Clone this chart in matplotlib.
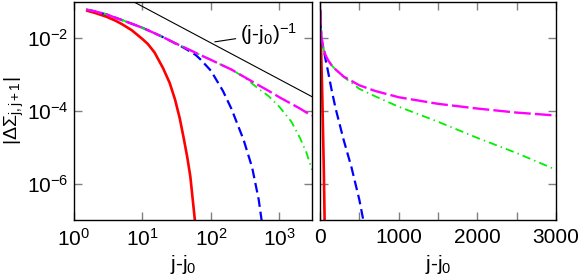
import numpy as np
import matplotlib
matplotlib.use("Agg")
import matplotlib.pyplot as plt
from matplotlib.ticker import FixedLocator, NullFormatter, LogFormatterSciNotation, NullLocator

plt.rcParams['font.family'] = ['Liberation Sans', 'DejaVu Sans']
plt.rcParams['mathtext.fontset'] = 'custom'
plt.rcParams['mathtext.rm'] = 'Liberation Sans'
plt.rcParams['mathtext.it'] = 'Liberation Sans:italic'
plt.rcParams['axes.unicode_minus'] = False
plt.rcParams['lines.scale_dashes'] = False

# data: |Delta Sigma_{j,j+1}| vs j - j0
x_red = [1.5, 2, 3, 4, 5, 7, 10, 12, 15, 20, 25, 30, 35, 40, 45, 50, 60]
y_red = [5.7e-2, 4.9e-2, 3.8e-2, 3.0e-2, 2.4e-2, 1.62e-2, 9.3e-3, 6.8e-3, 4.0e-3, 1.48e-3,
         5.8e-4, 2.0e-4, 6.3e-5, 1.8e-5, 5.5e-6, 1.6e-6, 6.0e-8]

x_blue = [1.5, 2, 3, 5, 7, 10, 15, 20, 30, 40, 50, 60, 70, 100, 150, 200, 300, 400, 500, 550, 600]
y_blue = [6.0e-2, 5.4e-2, 4.4e-2, 3.1e-2, 2.45e-2, 1.9e-2, 1.35e-2, 1.05e-2, 7.1e-3,
          5.4e-3, 4.2e-3, 3.4e-3, 2.6e-3, 1.26e-3, 3.5e-4, 1.12e-4, 1.6e-5,
          2.8e-6, 3.6e-7, 1.0e-7, 3.0e-8]

x_green = [1.5, 2, 3, 5, 7, 10, 15, 20, 30, 50, 70, 100, 150, 200, 300, 500, 700,
           1000, 1500, 2000, 2500, 3000]
y_green = [6.0e-2, 5.4e-2, 4.4e-2, 3.1e-2, 2.45e-2, 1.9e-2, 1.35e-2, 1.05e-2, 7.2e-3,
           4.6e-3, 3.4e-3, 2.5e-3, 1.74e-3, 1.35e-3, 8.5e-4, 4.0e-4, 2.5e-4,
           1.29e-4, 5.0e-5, 1.8e-5, 6.9e-6, 2.4e-6]

x_mag = [1.5, 2, 3, 5, 7, 10, 15, 20, 30, 50, 70, 100, 150, 200, 300, 500, 700,
         1000, 1500, 2000, 2500, 3000]
y_mag = [6.0e-2, 5.4e-2, 4.4e-2, 3.1e-2, 2.45e-2, 1.9e-2, 1.35e-2, 1.05e-2, 7.2e-3,
         4.6e-3, 3.4e-3, 2.5e-3, 1.74e-3, 1.35e-3, 8.7e-4, 5.0e-4, 3.5e-4,
         2.35e-4, 1.55e-4, 1.15e-4, 8.9e-5, 7.4e-5]

# guide line ~ (j-j0)^-1
ref_x = np.array([1.0, 3000.0])
ref_amp = 0.73

W, H = 581, 279
fig = plt.figure(figsize=(W / 100, H / 100), dpi=100)
ax1 = fig.add_axes([74 / W, 59 / H, 238 / W, 218.5 / H])
ax2 = fig.add_axes([320 / W, 59 / H, 236 / W, 218.5 / H])

fs = 15
tick_kw = dict(direction='in', colors='0.5', labelcolor='black', width=1.0,
               top=True, right=True, labelsize=fs)


def draw_curves(ax):
    ax.plot(x_red, y_red, color='#ff0000', lw=1.9, solid_capstyle='butt')
    ax.plot(x_blue, y_blue, color='#0000ff', lw=1.6, dashes=(7, 3.5))
    ax.plot(x_green, y_green, color='#00f000', lw=1.3, dashes=(6, 3, 1, 3))
    ax.plot(x_mag, y_mag, color='#ff00ff', lw=1.7, dashes=(12, 3))


for ax in (ax1, ax2):
    draw_curves(ax)
    ax.set_yscale('log')
    ax.set_ylim(1e-7, 1e-1)
    ax.yaxis.set_major_locator(FixedLocator([1e-6, 1e-4, 1e-2]))
    ax.yaxis.set_minor_locator(NullLocator())
    for s in ax.spines.values():
        s.set_linewidth(1.0)

# left panel: log-log
ax1.plot(ref_x, ref_amp / ref_x, color='black', lw=0.8)
ax1.set_xscale('log')
ax1.set_xlim(1, 3000)
ax1.xaxis.set_major_locator(FixedLocator([1, 10, 100, 1000]))
ax1.xaxis.set_major_formatter(LogFormatterSciNotation())
ax1.yaxis.set_major_formatter(LogFormatterSciNotation())
ax1.tick_params(which='major', length=6, pad=6, **tick_kw)
ax1.tick_params(axis='y', which='major', pad=4)
ax1.tick_params(which='minor', length=3, **tick_kw)
ax1.set_ylabel('|\u0394\u03a3$_{\\mathrm{j,j+1}}$|', fontsize=14)
ax1.yaxis.set_label_coords(-0.2, 0.5)
ax1.set_xlabel('j-j$_0$', fontsize=fs)
ax1.xaxis.set_label_coords(0.46, -0.15)
ax1.annotate('(j-j$_0$)$^{-1}$', xy=(114, 7.8e-3), xytext=(265, 1.3e-2),
             fontsize=fs, va='center', ha='left',
             arrowprops=dict(arrowstyle='-', color='black', lw=0.8,
                             shrinkA=1, shrinkB=0))

# right panel: linear x
ax2.set_xlim(0, 3000)
ax2.xaxis.set_major_locator(FixedLocator([0, 1000, 2000, 3000]))
ax2.xaxis.set_minor_locator(FixedLocator([500, 1500, 2500]))
ax2.yaxis.set_major_formatter(NullFormatter())
ax2.tick_params(which='major', length=6, pad=6, **tick_kw)
ax2.tick_params(which='minor', length=6, **tick_kw)
ax2.set_xlabel('j-j$_0$', fontsize=fs)
ax2.xaxis.set_label_coords(0.5, -0.15)

fig.savefig('out.png', dpi=100)
